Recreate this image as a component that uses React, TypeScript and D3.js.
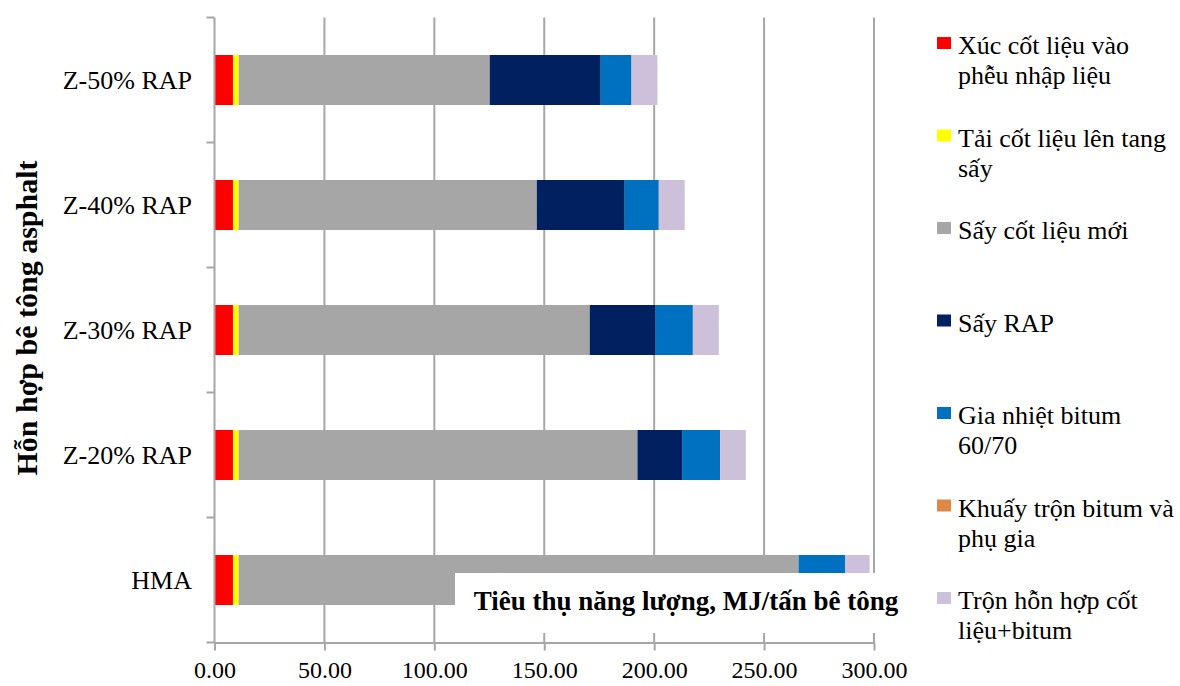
import React, { useRef, useEffect } from "react";
import * as d3 from "d3";

// categories top -> bottom
const categories = ["Z-50% RAP", "Z-40% RAP", "Z-30% RAP", "Z-20% RAP", "HMA"];

// energy by process step, MJ/tấn bê tông
const xucCotLieu = [8.4, 8.4, 8.4, 8.4, 8.4];
const taiCotLieu = [2.6, 2.6, 2.6, 2.6, 2.6];
const sayCotLieuMoi = [114.2, 135.6, 159.7, 181.4, 254.7];
const sayRap = [50.5, 40.0, 30.0, 20.3, 0];
const giaNhietBitum = [14.0, 15.5, 16.9, 17.3, 21.1];
const khuayTronBitum = [0, 0, 0, 0, 0];
const tronHonHop = [11.8, 11.8, 11.8, 11.7, 11.2];

const seriesLabels = [
  ["Xúc cốt liệu vào", "phễu nhập liệu"],
  ["Tải cốt liệu lên tang", "sấy"],
  ["Sấy cốt liệu mới"],
  ["Sấy RAP"],
  ["Gia nhiệt bitum", "60/70"],
  ["Khuấy trộn bitum và", "phụ gia"],
  ["Trộn hỗn hợp cốt", "liệu+bitum"],
];
const seriesColors = ["#ff0000", "#ffff00", "#a6a6a6", "#002060", "#0070c0", "#dd8844", "#ccc0da"];

const xTicks = [0, 50, 100, 150, 200, 250, 300];
const xTitle = "Tiêu thụ năng lượng, MJ/tấn bê tông";
const yTitle = "Hỗn hợp bê tông asphalt";

const FONT = "'Liberation Serif', 'Times New Roman', serif";

export default function App() {
  const ref = useRef<SVGSVGElement | null>(null);

  useEffect(() => {
    const width = 1180;
    const height = 686;
    const svg = d3.select(ref.current).attr("width", width).attr("height", height);
    svg.selectAll("*").remove();

    const allSeries = [xucCotLieu, taiCotLieu, sayCotLieuMoi, sayRap, giaNhietBitum, khuayTronBitum, tronHonHop];
    const keys = seriesLabels.map((_, i) => "s" + i);
    const rows = categories.map((c, ci) => {
      const r: any = { cat: c };
      keys.forEach((k, si) => (r[k] = allSeries[si][ci]));
      return r;
    });
    const stacked = d3.stack().keys(keys)(rows);

    const x = d3.scaleLinear().domain([0, 300]).range([214.5, 874]);
    const y = d3
      .scaleBand()
      .domain(categories)
      .range([17.5, 642.5])
      .paddingInner(0.6)
      .paddingOuter(0.3);
    const color = d3.scaleOrdinal<string, string>().domain(keys).range(seriesColors);

    const gridColor = "#a6a6a6";

    // vertical gridlines
    svg
      .append("g")
      .selectAll("line")
      .data(xTicks.slice(1))
      .join("line")
      .attr("x1", (d) => x(d))
      .attr("x2", (d) => x(d))
      .attr("y1", 17.5)
      .attr("y2", 642.5)
      .attr("stroke", gridColor)
      .attr("stroke-width", 2);

    // bars
    svg
      .append("g")
      .selectAll("g")
      .data(stacked)
      .join("g")
      .attr("fill", (d) => color(d.key))
      .selectAll("rect")
      .data((d) => d)
      .join("rect")
      .attr("x", (d) => x(d[0]))
      .attr("width", (d) => Math.max(0, x(d[1]) - x(d[0])))
      .attr("y", (d) => y((d.data as any).cat)!)
      .attr("height", y.bandwidth());

    // y axis line + category boundary ticks
    const step = y.step();
    const boundaries = categories.map((c) => y(c)! - step * 0.3).concat([642.5]);
    svg
      .append("line")
      .attr("x1", x(0))
      .attr("x2", x(0))
      .attr("y1", 17.5)
      .attr("y2", 642.5)
      .attr("stroke", gridColor)
      .attr("stroke-width", 2);
    svg
      .append("g")
      .selectAll("line")
      .data(boundaries)
      .join("line")
      .attr("x1", x(0) - 8)
      .attr("x2", x(0))
      .attr("y1", (d) => d)
      .attr("y2", (d) => d)
      .attr("stroke", gridColor)
      .attr("stroke-width", 2);

    // category labels
    svg
      .append("g")
      .selectAll("text")
      .data(categories)
      .join("text")
      .attr("x", 192)
      .attr("y", (d) => y(d)! + y.bandwidth() / 2)
      .attr("dy", "0.35em")
      .attr("text-anchor", "end")
      .style("font-family", FONT)
      .style("font-size", "26px")
      .text((d) => d);

    // x-axis title box (covers part of the plot like in the original)
    svg
      .append("rect")
      .attr("x", 455)
      .attr("y", 573)
      .attr("width", 445)
      .attr("height", 60)
      .attr("fill", "#fff");
    svg
      .append("text")
      .attr("x", 686)
      .attr("y", 610)
      .attr("text-anchor", "middle")
      .style("font-family", FONT)
      .style("font-size", "27px")
      .style("font-weight", "bold")
      .text(xTitle);

    // x axis
    const xAxis = svg
      .append("g")
      .attr("transform", "translate(0,642.5)")
      .call(
        d3
          .axisBottom(x)
          .tickValues(xTicks)
          .tickFormat(d3.format(".2f") as any)
          .tickSize(8)
          .tickSizeOuter(0)
          .tickPadding(10)
      );
    xAxis.selectAll("line").attr("stroke", gridColor).attr("stroke-width", 2);
    xAxis.select(".domain").attr("stroke", gridColor).attr("stroke-width", 2);
    xAxis
      .selectAll("text")
      .attr("fill", "#000")
      .style("font-family", FONT)
      .style("font-size", "24px");

    // y title
    svg
      .append("text")
      .attr("transform", "translate(37,318) rotate(-90)")
      .attr("text-anchor", "middle")
      .style("font-family", FONT)
      .style("font-size", "30px")
      .style("font-weight", "bold")
      .text(yTitle);

    // legend
    const ly = d3.scalePoint<number>().domain(d3.range(seriesLabels.length)).range([45, 600]);
    const legend = svg
      .append("g")
      .selectAll("g")
      .data(seriesLabels)
      .join("g")
      .attr("transform", (_, i) => `translate(937,${ly(i)})`);
    legend
      .append("rect")
      .attr("x", 0)
      .attr("y", -8)
      .attr("width", 14)
      .attr("height", 12)
      .attr("fill", (_, i) => seriesColors[i]);
    legend
      .append("text")
      .style("font-family", FONT)
      .style("font-size", "26px")
      .selectAll("tspan")
      .data((d) => d)
      .join("tspan")
      .attr("x", 21)
      .attr("y", (_, i) => i * 30)
      .attr("dy", "0.35em")
      .text((d) => d);
  }, []);

  return (
    <div style={{ position: "absolute", left: 0, top: 0 }}>
      <svg ref={ref} />
    </div>
  );
}
